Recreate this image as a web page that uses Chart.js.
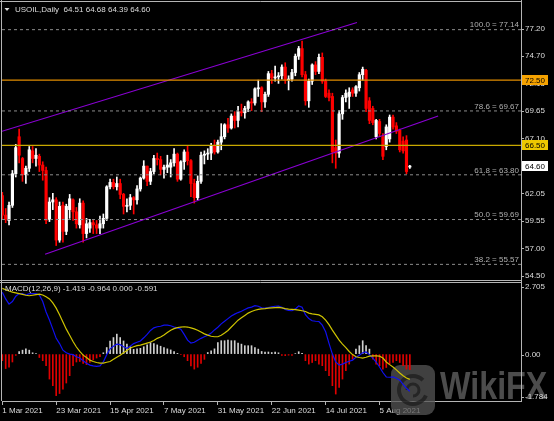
<!DOCTYPE html>
<html>
<head>
<meta charset="utf-8">
<script src="https://cdn.jsdelivr.net/npm/chart.js@4.4.1/dist/chart.umd.min.js"></script>
<style>
    html, body { margin: 0; padding: 0; background: #000; }
    #wrap { position: relative; width: 554px; height: 421px; overflow: hidden; background: #000; }
    canvas { position: absolute; left: 0; }
    #priceChart { top: 0; }
    #macdChart { top: 281px; }
</style>
</head>
<body>
<div id="wrap">
    <canvas id="priceChart" width="554" height="281"></canvas>
    <canvas id="macdChart" width="554" height="140"></canvas>
</div>
<script>
// USOIL daily, 1 Mar 2021 .. 19 Aug 2021
const opens = [
    61.9, 60.1, 59.6, 61.0, 63.9, 67.3, 65.3, 63.8, 64.4, 66.0,
    65.3, 65.5, 64.7, 64.2, 59.7, 61.3, 61.5, 57.8, 61.0, 58.6,
    60.6, 61.5, 60.4, 59.2, 61.2, 58.4, 58.9, 59.4, 59.2, 58.9,
    59.3, 59.8, 62.7, 63.1, 62.7, 63.0, 62.0, 60.9, 61.0, 61.7,
    61.5, 62.5, 63.5, 64.6, 63.2, 64.1, 65.3, 65.2, 64.3, 64.5,
    64.5, 64.9, 65.7, 63.4, 65.0, 65.9, 65.1, 63.0, 61.7, 63.2,
    65.6, 65.7, 65.8, 66.5, 65.9, 66.8, 67.3, 68.4, 68.1, 69.2,
    68.8, 69.6, 69.5, 69.9, 70.5, 70.4, 71.7, 71.8, 70.5, 71.2,
    73.1, 72.7, 72.8, 72.9, 73.7, 72.5, 72.6, 73.2, 74.7, 75.4,
    73.0, 70.6, 72.4, 73.9, 73.3, 74.6, 72.4, 71.3, 71.0, 66.3,
    65.8, 69.4, 70.9, 71.0, 71.6, 71.3, 71.8, 73.0, 73.4, 70.6,
    69.9, 67.3, 68.7, 67.3, 66.4, 67.1, 69.1, 68.3, 67.9, 66.9,
    67.0, 64.51
];
const highs = [
    62.2, 60.7, 61.3, 64.2, 66.6, 68.0, 65.4, 64.6, 66.4, 66.4,
    66.2, 65.7, 65.0, 64.5, 61.7, 62.1, 61.7, 61.3, 61.3, 61.1,
    62.0, 61.6, 60.8, 61.6, 61.4, 59.8, 59.7, 59.7, 59.6, 60.0,
    60.2, 62.8, 63.4, 63.4, 63.6, 63.4, 62.1, 61.6, 62.0, 61.8,
    62.8, 63.6, 65.1, 64.6, 64.4, 65.6, 65.8, 65.5, 64.7, 65.6,
    65.2, 66.2, 65.8, 65.1, 66.1, 66.5, 65.2, 63.4, 63.7, 65.9,
    66.0, 66.2, 66.7, 67.0, 67.0, 68.5, 68.5, 69.0, 69.4, 69.6,
    70.1, 70.3, 70.1, 70.6, 70.8, 71.8, 72.5, 71.9, 71.4, 73.3,
    73.4, 73.8, 73.2, 73.9, 74.1, 72.9, 73.5, 74.9, 75.6, 76.1,
    73.3, 72.6, 74.0, 74.2, 74.9, 75.0, 72.6, 71.6, 71.3, 67.0,
    69.7, 71.1, 71.6, 71.8, 71.8, 72.0, 73.2, 73.7, 73.5, 70.9,
    70.1, 68.9, 68.9, 67.6, 68.4, 69.3, 69.3, 68.6, 68.0, 67.3,
    67.4, 64.68
];
const lows = [
    59.7, 59.4, 59.2, 60.8, 63.6, 64.9, 63.2, 63.0, 64.1, 64.9,
    64.6, 64.1, 63.3, 59.3, 59.5, 60.6, 57.3, 57.6, 57.6, 58.3,
    59.8, 59.6, 58.9, 58.9, 57.6, 58.0, 58.5, 58.4, 58.4, 58.4,
    58.9, 59.6, 62.5, 62.5, 62.4, 61.6, 60.2, 60.4, 60.6, 60.2,
    61.1, 62.3, 63.4, 62.8, 62.9, 63.9, 64.7, 63.8, 63.5, 64.0,
    63.6, 64.6, 63.2, 63.3, 64.3, 64.7, 61.8, 61.2, 61.5, 63.0,
    64.8, 65.2, 65.2, 65.7, 65.8, 66.1, 67.1, 67.7, 68.0, 68.1,
    68.2, 69.2, 69.0, 69.6, 69.7, 70.2, 71.0, 69.6, 70.0, 71.0,
    72.2, 72.4, 72.2, 72.6, 72.2, 71.6, 72.4, 72.9, 74.4, 72.8,
    70.2, 70.0, 72.1, 73.0, 73.1, 72.2, 70.9, 70.6, 64.9, 64.4,
    65.4, 68.9, 70.5, 69.9, 71.0, 71.0, 71.5, 72.5, 69.6, 68.5,
    68.4, 67.1, 67.3, 65.2, 66.1, 66.8, 68.0, 67.6, 65.9, 65.8,
    63.9, 64.39
];
const closes = [
    60.1, 59.7, 61.0, 63.9, 66.3, 65.6, 63.8, 64.4, 66.1, 65.3,
    65.6, 64.7, 64.2, 59.6, 61.3, 61.5, 57.8, 60.9, 58.6, 60.9,
    61.6, 60.4, 59.3, 61.2, 58.4, 59.3, 59.4, 59.2, 58.9, 59.3,
    59.8, 62.7, 63.1, 62.7, 63.0, 62.0, 60.9, 61.0, 61.7, 61.5,
    62.5, 63.5, 64.6, 63.2, 64.1, 65.3, 65.2, 64.3, 64.5, 64.7,
    64.9, 65.7, 63.4, 65.0, 65.9, 65.1, 63.0, 61.7, 63.2, 65.6,
    65.7, 65.8, 66.5, 65.9, 66.8, 67.3, 68.4, 68.1, 69.2, 68.8,
    69.6, 69.5, 69.9, 70.5, 70.4, 71.7, 71.8, 70.5, 71.2, 73.1,
    72.7, 72.8, 72.9, 73.7, 72.5, 72.6, 73.2, 74.7, 75.4, 73.0,
    70.6, 72.4, 73.9, 73.3, 74.6, 72.4, 71.0, 70.9, 65.9, 65.8,
    69.4, 70.9, 71.3, 71.4, 71.3, 71.9, 73.0, 73.5, 69.9, 68.8,
    68.6, 68.8, 67.6, 65.5, 68.2, 69.1, 68.2, 67.8, 66.1, 66.0,
    64.1, 64.60
];

// MACD(12,26,9): main line, signal line, histogram
const macdMain = [
    2.35, 2.1, 1.9, 2.0, 2.2, 2.3, 2.3, 2.25, 2.3, 2.3,
    2.3, 2.25, 2.0, 1.6, 1.3, 0.95, 0.6, 0.4, 0.15, 0.05,
    0.0, -0.02, -0.1, -0.15, -0.25, -0.35, -0.42, -0.45, -0.47, -0.45,
    -0.3, -0.02, 0.2, 0.3, 0.38, 0.36, 0.28, 0.22, 0.3, 0.4,
    0.45, 0.5, 0.62, 0.75, 0.9, 1.0, 1.04, 1.06, 1.1, 1.1,
    1.08, 1.03, 1.0, 0.95, 0.75, 0.53, 0.42, 0.45, 0.53, 0.6,
    0.66, 0.72, 0.8, 0.92, 1.02, 1.15, 1.25, 1.35, 1.45, 1.52,
    1.58, 1.63, 1.7, 1.76, 1.79, 1.84, 1.82, 1.76, 1.75, 1.77,
    1.8, 1.82, 1.83, 1.78, 1.7, 1.66, 1.65, 1.72, 1.83, 1.78,
    1.5, 1.35, 1.27, 1.25, 1.24, 1.1, 0.85, 0.41, 0.0, -0.3,
    -0.42, -0.38, -0.32, -0.27, -0.23, -0.12, -0.04, 0.05, 0.08, -0.02,
    -0.15, -0.3, -0.49, -0.7, -0.87, -0.88, -0.87, -0.92, -0.99, -1.15,
    -1.3, -1.42
];
const macdSignal = [
    2.5, 2.45, 2.4, 2.36, 2.33, 2.3, 2.27, 2.24, 2.22, 2.24,
    2.26, 2.28, 2.25, 2.18, 2.1, 1.95, 1.75, 1.5, 1.22, 0.95,
    0.72, 0.48, 0.27, 0.1, -0.04, -0.13, -0.23, -0.28, -0.32, -0.34,
    -0.34, -0.31, -0.28, -0.2, -0.12, -0.04, 0.05, 0.14, 0.23, 0.28,
    0.32, 0.34, 0.38, 0.42, 0.46, 0.52, 0.6, 0.65, 0.73, 0.82,
    0.91, 0.97, 1.01, 1.03, 1.04, 1.03, 1.0, 0.96, 0.91, 0.84,
    0.77, 0.72, 0.68, 0.66, 0.66, 0.72, 0.8, 0.9, 1.03, 1.16,
    1.29, 1.38, 1.47, 1.56, 1.62, 1.67, 1.7, 1.72, 1.73, 1.75,
    1.76, 1.77, 1.78, 1.76, 1.73, 1.71, 1.7, 1.69, 1.67, 1.65,
    1.62, 1.56, 1.53, 1.51, 1.49, 1.42, 1.29, 1.12, 0.91, 0.72,
    0.53, 0.38, 0.25, 0.1, -0.02, -0.1, -0.13, -0.15, -0.12, -0.08,
    -0.07, -0.07, -0.08, -0.15, -0.3, -0.4, -0.49, -0.6, -0.72, -0.82,
    -0.91, -0.96
];
const macdHist = [
    -0.25, -0.55, -0.5, -0.3, -0.05, 0.1, 0.15, 0.2, 0.15, 0.05,
    0.02, -0.13, -0.25, -0.44, -0.95, -1.2, -1.58, -1.5, -1.33, -1.1,
    -0.82, -0.44, -0.3, -0.28, -0.35, -0.4, -0.32, -0.22, -0.15, -0.1,
    0.05, 0.25, 0.5, 0.63, 0.76, 0.63, 0.5, 0.38, 0.3, 0.18,
    0.2, 0.22, 0.28, 0.35, 0.44, 0.4, 0.35, 0.3, 0.25, 0.2,
    0.16, 0.1, 0.03, -0.02, -0.1, -0.25, -0.45, -0.57, -0.5, -0.35,
    -0.2, 0.06, 0.12, 0.2, 0.44, 0.51, 0.51, 0.53, 0.51, 0.51,
    0.42, 0.38, 0.32, 0.32, 0.32, 0.25, 0.19, 0.1, 0.08, 0.08,
    0.06, 0.08, 0.05, -0.05, -0.06, -0.04, -0.05, 0.02, 0.09, 0.03,
    -0.25, -0.38, -0.32, -0.25, -0.38, -0.44, -0.63, -0.82, -1.2, -1.52,
    -1.27, -0.95, -0.63, -0.38, -0.19, 0.19, 0.32, 0.51, 0.32, 0.19,
    -0.19, -0.38, -0.44, -0.57, -0.51, -0.38, -0.32, -0.25, -0.32, -0.44,
    -0.57, -0.59
];

const dateLabels = ["1 Mar 2021", "23 Mar 2021", "15 Apr 2021", "7 May 2021",
    "31 May 2021", "22 Jun 2021", "14 Jul 2021", "5 Aug 2021"];
const dateTickIndex = [0, 16, 32, 48, 64, 80, 96, 112];
const priceTicks = [77.20, 74.70, 72.15, 69.65, 67.10, 64.55, 62.05, 59.55, 57.00, 54.50];
const macdTicks = [2.705, 0.00, -1.784];

// fibonacci retracement and marked levels
const fibNames = ["100.0", "78.6", "61.8", "50.0", "38.2"];
const fibLevels = [77.14, 69.67, 63.80, 59.69, 55.57];
const resistanceLevel = 72.50;
const supportLevel = 66.50;
const lastPrice = 64.60;

// channel lines: [bar index, price]
const channelUpper = [[-0.09, 67.8], [105.3, 77.8]];
const channelLower = [[12.7, 56.5], [129.4, 69.2]];

const header = "USOIL,Daily  64.51 64.68 64.39 64.60";
const macdHeader = "MACD(12,26,9) -1.419 -0.964 0.000 -0.591";

Chart.defaults.font.family = '"Liberation Sans", Arial, sans-serif';
Chart.defaults.font.size = 8;

const xMin = -0.09;
const xMax = 154.0;
const axisGray = "#b4b4b4";
const textColor = "#dcdcdc";
const bullColor = "#ffffff";
const bearColor = "#ff0000";
const barIndex = closes.map((_, i) => i);

function candleColor(ctx) {
    const i = ctx.dataIndex;
    if (i === undefined) return bullColor;
    return closes[i] >= opens[i] ? bullColor : bearColor;
}

function flatLine(value, color, width, dash, order) {
    return {
        type: "line",
        data: [{ x: xMin, y: value }, { x: xMax, y: value }],
        borderColor: color,
        borderWidth: width,
        borderDash: dash,
        pointRadius: 0,
        fill: false,
        order: order,
    };
}

function trendLine(points, color) {
    return {
        type: "line",
        data: points.map(p => ({ x: p[0], y: p[1] })),
        borderColor: color,
        borderWidth: 1.2,
        pointRadius: 0,
        fill: false,
        order: 0,
    };
}

function priceBox(ctx, y, value, bg) {
    ctx.fillStyle = bg;
    ctx.fillRect(522, Math.round(y) - 5, 26, 10);
    ctx.fillStyle = "#000";
    ctx.textAlign = "left";
    ctx.textBaseline = "middle";
    ctx.fillText(value.toFixed(2), 525, y + 0.5);
}

const pricePanelExtras = {
    id: "pricePanelExtras",
    afterDraw(chart) {
        const ctx = chart.ctx;
        const area = chart.chartArea;
        const yScale = chart.scales.y;
        ctx.save();

        ctx.strokeStyle = axisGray;
        ctx.lineWidth = 1;
        ctx.beginPath();
        ctx.moveTo(1.5, 0); ctx.lineTo(1.5, 281);
        ctx.moveTo(0, 1.5); ctx.lineTo(area.right, 1.5);
        ctx.moveTo(0, 280.5); ctx.lineTo(area.right, 280.5);
        ctx.moveTo(area.right + 0.5, 0); ctx.lineTo(area.right + 0.5, 281);
        ctx.stroke();

        ctx.font = '8px "Liberation Sans"';
        ctx.fillStyle = "#b0b0b0";
        ctx.textAlign = "right";
        ctx.textBaseline = "bottom";
        fibLevels.forEach((v, i) => {
            const y = yScale.getPixelForValue(v);
            ctx.fillText(fibNames[i] + " = " + v.toFixed(2), area.right - 2, y - 0.5);
        });

        priceBox(ctx, yScale.getPixelForValue(resistanceLevel), resistanceLevel, "#f5a200");
        priceBox(ctx, yScale.getPixelForValue(supportLevel), supportLevel, "#ecc800");
        priceBox(ctx, yScale.getPixelForValue(lastPrice), lastPrice, "#ffffff");

        ctx.fillStyle = textColor;
        ctx.beginPath();
        ctx.moveTo(4.5, 8); ctx.lineTo(9.5, 8); ctx.lineTo(7, 11);
        ctx.closePath();
        ctx.fill();
        ctx.textAlign = "left";
        ctx.textBaseline = "middle";
        ctx.fillText(header, 15, 10);
        ctx.restore();
    },
};

new Chart(document.getElementById("priceChart"), {
    type: "bar",
    data: {
        datasets: [
            {
                data: barIndex.map(i => ({ x: i, y: [opens[i], closes[i]] })),
                backgroundColor: candleColor,
                barThickness: 2.5,
                minBarLength: 1,
                grouped: false,
                order: 1,
            },
            {
                data: barIndex.map(i => ({ x: i, y: [lows[i], highs[i]] })),
                backgroundColor: candleColor,
                barThickness: 1,
                grouped: false,
                order: 2,
            },
            ...fibLevels.map(v => flatLine(v, "#8c8c8c", 1, [3, 3], 0)),
            flatLine(resistanceLevel, "#e08c00", 1.2, [], 0),
            flatLine(supportLevel, "#c8a800", 1.2, [], 0),
            trendLine(channelUpper, "#8a00d4"),
            trendLine(channelLower, "#8a00d4"),
        ],
    },
    options: {
        responsive: false,
        animation: false,
        devicePixelRatio: 1,
        layout: { padding: { top: 3, left: 2, right: 0, bottom: 1 } },
        plugins: { legend: { display: false }, tooltip: { enabled: false } },
        scales: {
            x: { type: "linear", display: false, min: xMin, max: xMax, offset: false },
            y: {
                position: "right",
                min: 54.133,
                max: 79.59,
                afterBuildTicks: s => { s.ticks = priceTicks.map(v => ({ value: v })); },
                afterFit: s => { s.width = 33; s.paddingTop = 0; s.paddingBottom = 0; },
                ticks: {
                    color: textColor,
                    padding: 1,
                    autoSkip: false,
                    callback: v => Number(v).toFixed(2),
                },
                grid: { drawOnChartArea: false, drawTicks: true, tickLength: 3, color: axisGray },
                border: { color: axisGray },
            },
        },
    },
    plugins: [pricePanelExtras],
});

function drawWatermark(ctx) {
    ctx.save();
    ctx.globalAlpha = 0.75;
    ctx.fillStyle = "#555555";
    ctx.beginPath();
    ctx.roundRect(391, 84, 44, 50, 9);
    ctx.fill();
    ctx.strokeStyle = "#1c1c1c";
    ctx.lineWidth = 4;
    ctx.beginPath();
    ctx.arc(413, 109, 14, 0.4, Math.PI * 1.75);
    ctx.stroke();
    ctx.lineWidth = 3;
    ctx.beginPath();
    ctx.arc(413, 109, 6, Math.PI, Math.PI * 2.5);
    ctx.stroke();
    ctx.fillStyle = "#666666";
    ctx.font = 'bold 38px "Liberation Sans"';
    ctx.textAlign = "left";
    ctx.textBaseline = "alphabetic";
    ctx.translate(440, 118);
    ctx.scale(0.85, 1);
    ctx.fillText("WikiFX", 0, 0);
    ctx.restore();
}

const macdPanelExtras = {
    id: "macdPanelExtras",
    beforeDatasetsDraw(chart) {
        drawWatermark(chart.ctx);
    },
    afterDraw(chart) {
        const ctx = chart.ctx;
        const area = chart.chartArea;
        const yScale = chart.scales.y;
        ctx.save();
        ctx.strokeStyle = axisGray;
        ctx.lineWidth = 1;
        ctx.beginPath();
        ctx.moveTo(1.5, 0); ctx.lineTo(1.5, area.bottom);
        ctx.moveTo(0, 1.5); ctx.lineTo(area.right, 1.5);
        ctx.moveTo(area.right + 0.5, 0); ctx.lineTo(area.right + 0.5, area.bottom);
        ctx.stroke();

        ctx.font = '8px "Liberation Sans"';
        ctx.fillStyle = textColor;
        ctx.textAlign = "left";
        ctx.textBaseline = "middle";
        macdTicks.forEach((v, i) => {
            let y = yScale.getPixelForValue(v);
            if (i === 0) y = area.top + 4;
            else if (i === macdTicks.length - 1) y = area.bottom - 4;
            else y += 1;
            ctx.beginPath();
            ctx.moveTo(area.right, Math.round(y) + 0.5);
            ctx.lineTo(area.right + 3, Math.round(y) + 0.5);
            ctx.stroke();
            ctx.fillText(v === 0 ? "0.00" : v.toFixed(3), 525, y);
        });

        ctx.fillText(macdHeader, 5, 8);
        ctx.restore();
    },
};

new Chart(document.getElementById("macdChart"), {
    type: "bar",
    data: {
        datasets: [
            {
                type: "line",
                data: barIndex.map(i => ({ x: i, y: macdMain[i] })),
                borderColor: "#1010f0",
                borderWidth: 1.2,
                pointRadius: 0,
                fill: false,
                order: 1,
            },
            {
                type: "line",
                data: barIndex.map(i => ({ x: i, y: macdSignal[i] })),
                borderColor: "#cfc400",
                borderWidth: 1.2,
                pointRadius: 0,
                fill: false,
                order: 0,
            },
            {
                data: barIndex.map(i => ({ x: i, y: macdHist[i] })),
                backgroundColor: ctx => {
                    const i = ctx.dataIndex;
                    if (i === undefined) return "#d0d0d0";
                    return macdHist[i] >= 0 ? "#d0d0d0" : "#e00000";
                },
                barThickness: 1,
                grouped: false,
                order: 2,
            },
        ],
    },
    options: {
        responsive: false,
        animation: false,
        devicePixelRatio: 1,
        layout: { padding: { top: 2, left: 2, right: 0, bottom: 0 } },
        plugins: { legend: { display: false }, tooltip: { enabled: false } },
        scales: {
            x: {
                type: "linear",
                position: "bottom",
                min: xMin,
                max: xMax,
                offset: false,
                afterBuildTicks: s => { s.ticks = dateTickIndex.map(v => ({ value: v })); },
                afterFit: s => { s.height = 20; s.paddingLeft = 0; s.paddingRight = 0; },
                ticks: {
                    color: textColor,
                    align: "start",
                    padding: 1,
                    autoSkip: false,
                    maxRotation: 0,
                    minRotation: 0,
                    callback: (v, i) => dateLabels[i],
                },
                grid: { drawOnChartArea: false, drawTicks: true, tickLength: 4, color: axisGray, offset: false },
                border: { color: axisGray },
            },
            y: {
                position: "right",
                min: -1.784,
                max: 2.705,
                afterBuildTicks: s => { s.ticks = macdTicks.map(v => ({ value: v })); },
                afterFit: s => { s.width = 33; s.paddingTop = 0; s.paddingBottom = 0; },
                ticks: { display: false },
                grid: { drawOnChartArea: false, drawTicks: false },
                border: { color: axisGray },
            },
        },
    },
    plugins: [macdPanelExtras],
});
</script>
</body>
</html>
